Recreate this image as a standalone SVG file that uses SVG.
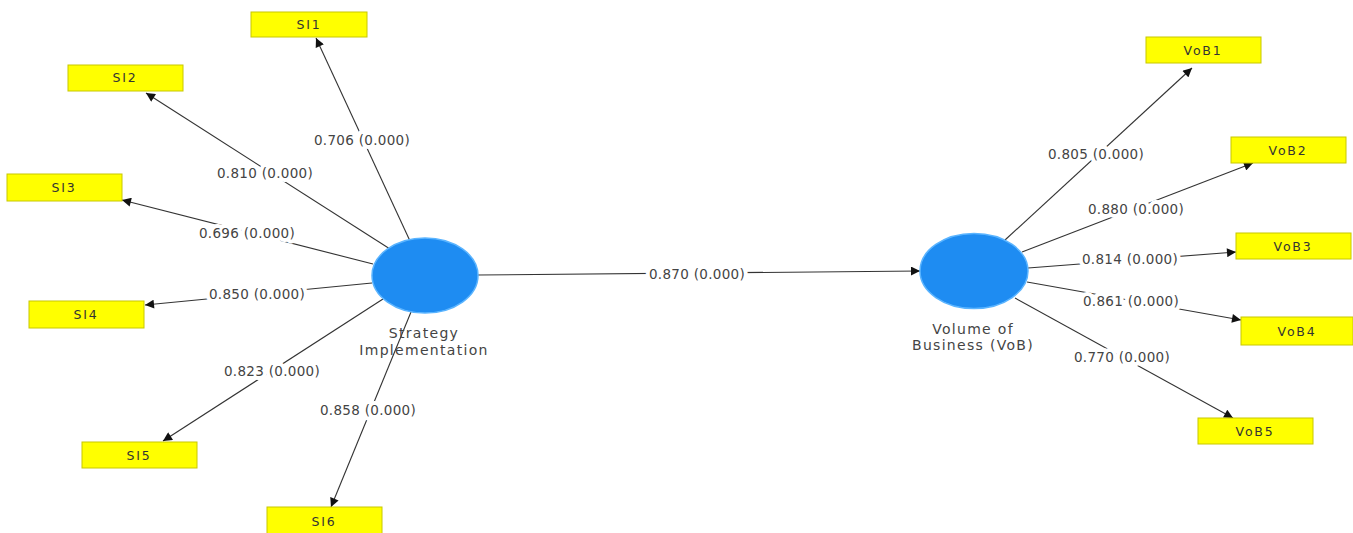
<svg xmlns="http://www.w3.org/2000/svg" width="1353" height="533" viewBox="0 0 1353 533">
<defs>
<marker id="arr" viewBox="0 0 10 10" refX="10" refY="5" markerWidth="10" markerHeight="9" markerUnits="userSpaceOnUse" orient="auto">
<path d="M0,0 L10,5 L0,10 z" fill="#111"/>
</marker>
<style>
.ind rect{fill:#ffff00;stroke:#c8c800;stroke-width:1}
.ind text{font-family:"DejaVu Sans",sans-serif;font-size:12.5px;fill:#333;text-anchor:middle;letter-spacing:1.8px}
.lv ellipse{fill:#1e8cf2;stroke:#5ab4ff;stroke-width:1.5}
.lv text{font-family:"DejaVu Sans",sans-serif;font-size:14px;fill:#444;text-anchor:middle;letter-spacing:1.3px}
.conn line{stroke:#333;stroke-width:1.1;marker-end:url(#arr)}
.lbl{font-family:"DejaVu Sans",sans-serif;font-size:13.5px;fill:#444;text-anchor:middle;stroke:#fff;stroke-width:8px;paint-order:stroke;stroke-linejoin:round;letter-spacing:0.3px}
</style>
</defs>
<rect width="1353" height="533" fill="#fff"/>
<g id="connectors" class="conn">
<line x1="410" y1="241" x2="316" y2="38"/>
<line x1="390" y1="249" x2="146" y2="93"/>
<line x1="373" y1="264" x2="122" y2="200"/>
<line x1="372" y1="283" x2="145" y2="305"/>
<line x1="383" y1="299" x2="163" y2="441"/>
<line x1="411" y1="312" x2="331" y2="507"/>
<line x1="478" y1="275" x2="920" y2="271"/>
<line x1="1005" y1="240" x2="1192" y2="68"/>
<line x1="1022" y1="252" x2="1253" y2="163"/>
<line x1="1028" y1="268" x2="1236" y2="252"/>
<line x1="1027" y1="282" x2="1241" y2="320"/>
<line x1="1015" y1="298" x2="1233" y2="418"/>
<text class="lbl" x="362" y="145">0.706 (0.000)</text>
<text class="lbl" x="265" y="178">0.810 (0.000)</text>
<text class="lbl" x="247" y="238">0.696 (0.000)</text>
<text class="lbl" x="257" y="299">0.850 (0.000)</text>
<text class="lbl" x="272" y="376">0.823 (0.000)</text>
<text class="lbl" x="368" y="415">0.858 (0.000)</text>
<text class="lbl" x="697" y="279">0.870 (0.000)</text>
<text class="lbl" x="1096" y="159">0.805 (0.000)</text>
<text class="lbl" x="1136" y="214">0.880 (0.000)</text>
<text class="lbl" x="1130" y="264">0.814 (0.000)</text>
<text class="lbl" x="1131" y="306">0.861 (0.000)</text>
<text class="lbl" x="1122" y="362">0.770 (0.000)</text>
</g>
<g id="SI" class="lv">
<ellipse cx="425" cy="275.5" rx="53" ry="37.5"/>
<text x="424" y="338">Strategy</text>
<text x="424" y="355">Implementation</text>
</g>
<g id="VoB" class="lv">
<ellipse cx="974" cy="271" rx="54" ry="37.5"/>
<text x="973" y="334">Volume of</text>
<text x="973" y="350">Business (VoB)</text>
</g>
<g id="SI1" class="ind"><rect x="251" y="12" width="116" height="25"/><text x="309" y="29">SI1</text></g>
<g id="SI2" class="ind"><rect x="68" y="65" width="115" height="26"/><text x="125" y="82">SI2</text></g>
<g id="SI3" class="ind"><rect x="7" y="174" width="115" height="27"/><text x="64" y="192">SI3</text></g>
<g id="SI4" class="ind"><rect x="29" y="301" width="115" height="27"/><text x="86" y="319">SI4</text></g>
<g id="SI5" class="ind"><rect x="82" y="442" width="115" height="26"/><text x="139" y="460">SI5</text></g>
<g id="SI6" class="ind"><rect x="267" y="507" width="115" height="27"/><text x="324" y="526">SI6</text></g>
<g id="VoB1" class="ind"><rect x="1146" y="37" width="115" height="26"/><text x="1203" y="55">VoB1</text></g>
<g id="VoB2" class="ind"><rect x="1231" y="137" width="115" height="26"/><text x="1288" y="155">VoB2</text></g>
<g id="VoB3" class="ind"><rect x="1236" y="233" width="115" height="26"/><text x="1293" y="251">VoB3</text></g>
<g id="VoB4" class="ind"><rect x="1241" y="317" width="112" height="28"/><text x="1297" y="336">VoB4</text></g>
<g id="VoB5" class="ind"><rect x="1198" y="418" width="115" height="26"/><text x="1255" y="436">VoB5</text></g>
</svg>
